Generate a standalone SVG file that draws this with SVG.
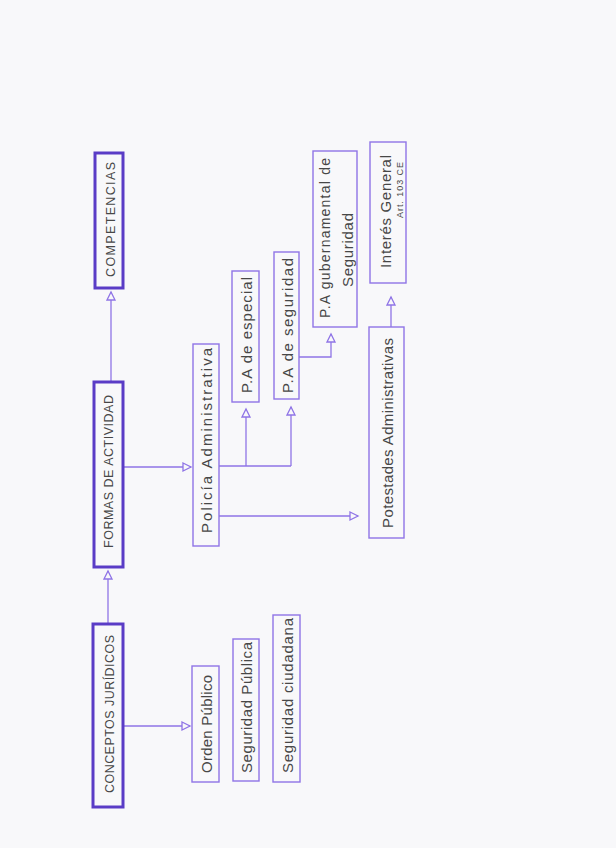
<svg xmlns="http://www.w3.org/2000/svg" width="616" height="848" viewBox="0 0 616 848">
<style>
.thick{fill:none;stroke:#5a3cc6;stroke-width:3}
.thin{fill:none;stroke:#8f74e6;stroke-width:1.4}
.con{fill:none;stroke:#8f74e6;stroke-width:1.3}
text{font-family:"Liberation Sans","DejaVu Sans",sans-serif;fill:#474747;text-anchor:middle;dominant-baseline:central;font-size:15px}
.caps{font-size:12.5px}
.mid{font-size:14px}
.small{font-size:9px}
</style>
<defs>
<marker id="ah" markerUnits="userSpaceOnUse" markerWidth="12" markerHeight="12" refX="9" refY="5" orient="auto">
<path d="M1,1 L9,5 L1,9 Z" fill="#f8f8fa" stroke="#8f74e6" stroke-width="1.3"/>
</marker>
</defs>
<rect width="616" height="848" fill="#f8f8fa"/>
<g id="connectors">
<path class="con" d="M108,624 V571" marker-end="url(#ah)"/>
<path class="con" d="M111,382 V292" marker-end="url(#ah)"/>
<path class="con" d="M123,726 H190" marker-end="url(#ah)"/>
<path class="con" d="M123,467 H191" marker-end="url(#ah)"/>
<path class="con" d="M219,466 H291"/>
<path class="con" d="M246,466 V409" marker-end="url(#ah)"/>
<path class="con" d="M291,466 V407" marker-end="url(#ah)"/>
<path class="con" d="M299,357 H331 V334" marker-end="url(#ah)"/>
<path class="con" d="M219,516 H358" marker-end="url(#ah)"/>
<path class="con" d="M391,327 V297" marker-end="url(#ah)"/>
</g>
<g id="conceptos">
<rect class="thick" x="93" y="624" width="30" height="183"/>
<text class="caps" transform="translate(110,714) rotate(-90)" textLength="158" lengthAdjust="spacing">CONCEPTOS JURÍDICOS</text>
</g>
<g id="orden">
<rect class="thin" x="192" y="666" width="27" height="116"/>
<text transform="translate(206,724) rotate(-90)" textLength="98" lengthAdjust="spacing">Orden Público</text>
</g>
<g id="seg-publica">
<rect class="thin" x="233" y="639" width="26" height="142"/>
<text transform="translate(246,707.5) rotate(-90)" textLength="131" lengthAdjust="spacing">Seguridad Pública</text>
</g>
<g id="seg-ciudadana">
<rect class="thin" x="273" y="615" width="27" height="167"/>
<text transform="translate(287,695.5) rotate(-90)" textLength="155" lengthAdjust="spacing">Seguridad ciudadana</text>
</g>
<g id="formas">
<rect class="thick" x="94" y="382" width="29" height="185"/>
<text class="caps" transform="translate(109,471.5) rotate(-90)" textLength="153" lengthAdjust="spacing">FORMAS DE ACTIVIDAD</text>
</g>
<g id="policia">
<rect class="thin" x="193" y="344" width="26" height="202"/>
<text transform="translate(206,440.5) rotate(-90)" textLength="185" lengthAdjust="spacing">Policía Administrativa</text>
</g>
<g id="pa-especial">
<rect class="thin" x="232" y="271" width="27" height="131"/>
<text transform="translate(246,335) rotate(-90)" textLength="116" lengthAdjust="spacing">P.A de especial</text>
</g>
<g id="pa-seguridad">
<rect class="thin" x="274" y="252" width="25" height="147"/>
<text transform="translate(287,325.5) rotate(-90)" textLength="135" lengthAdjust="spacing">P.A de seguridad</text>
</g>
<g id="pa-gubernamental">
<rect class="thin" x="313" y="151" width="44" height="176"/>
<text class="mid" transform="translate(325,238) rotate(-90)" textLength="160" lengthAdjust="spacing">P.A gubernamental de</text>
<text transform="translate(347,250) rotate(-90)" textLength="74" lengthAdjust="spacing">Seguridad</text>
</g>
<g id="potestades">
<rect class="thin" x="369" y="327" width="35" height="211"/>
<text transform="translate(387,433) rotate(-90)" textLength="190" lengthAdjust="spacing">Potestades Administrativas</text>
</g>
<g id="interes">
<rect class="thin" x="370" y="142" width="36" height="141"/>
<text transform="translate(385,211.5) rotate(-90)" textLength="113" lengthAdjust="spacing">Interés General</text>
<text class="small" transform="translate(400,190) rotate(-90)" textLength="56" lengthAdjust="spacing">Art. 103 CE</text>
</g>
<g id="competencias">
<rect class="thick" x="95" y="153" width="28" height="135"/>
<text class="caps" transform="translate(111,219.5) rotate(-90)" textLength="115" lengthAdjust="spacing">COMPETENCIAS</text>
</g>
</svg>
